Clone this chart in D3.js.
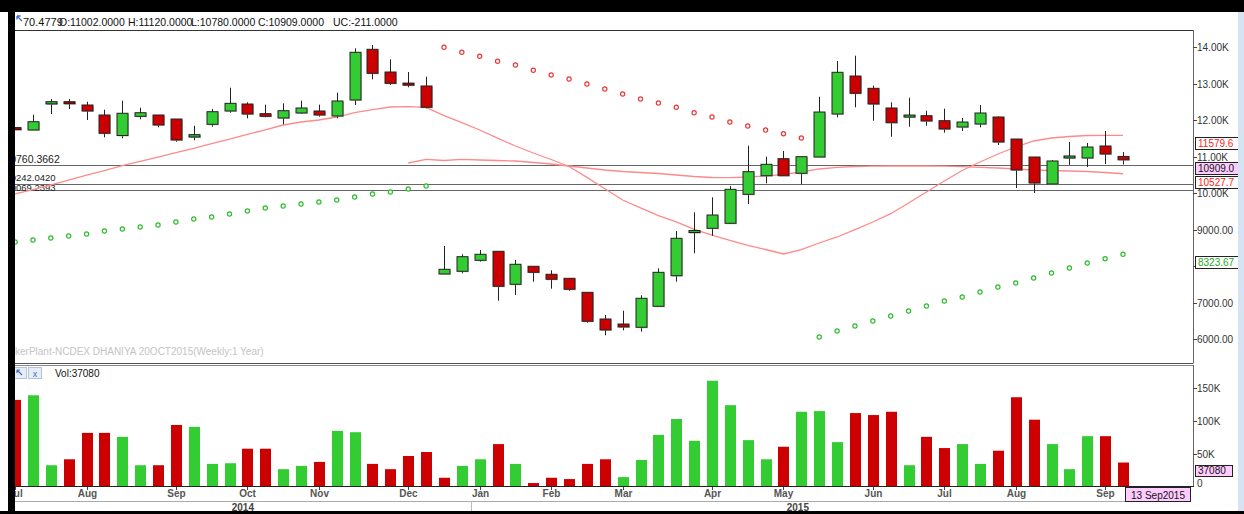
<!DOCTYPE html>
<html><head><meta charset="utf-8">
<script src="https://cdn.jsdelivr.net/npm/d3@7"></script>
<style>
html,body{margin:0;padding:0;background:#fff;overflow:hidden;}
svg{display:block;}
text{font-family:"Liberation Sans",Arial,sans-serif;}
</style></head><body>
<svg id="chart" width="1244" height="514"></svg>
<script>
// ---------------- DATA ----------------
const dates = [
"2014-07-06","2014-07-13","2014-07-20","2014-07-27","2014-08-03","2014-08-10","2014-08-17","2014-08-24","2014-08-31",
"2014-09-07","2014-09-14","2014-09-21","2014-09-28","2014-10-05","2014-10-12","2014-10-19","2014-10-26",
"2014-11-02","2014-11-09","2014-11-16","2014-11-23","2014-11-30","2014-12-07","2014-12-14","2014-12-21","2014-12-28",
"2015-01-04","2015-01-11","2015-01-18","2015-01-25","2015-02-01","2015-02-08","2015-02-15","2015-02-22",
"2015-03-01","2015-03-08","2015-03-15","2015-03-22","2015-03-29","2015-04-05","2015-04-12","2015-04-19","2015-04-26",
"2015-05-03","2015-05-10","2015-05-17","2015-05-24","2015-05-31","2015-06-07","2015-06-14","2015-06-21","2015-06-28",
"2015-07-05","2015-07-12","2015-07-19","2015-07-26","2015-08-02","2015-08-09","2015-08-16","2015-08-23","2015-08-30",
"2015-09-06","2015-09-13"];
const open = [11790,11726,12440,12500,12411,12137,11575,12101,12137,12027,
11534,11882,12247,12438,12173,12055,12192,12247,12110,12548,
13937,13315,13010,12932,7781,7855,8156,8403,7499,7992,
7773,7663,7279,6548,6411,6321,6896,7734,8950,9033,
9170,9964,10474,10940,10540,10986,12164,13205,12868,12329,
12125,12118,11981,11808,11890,12082,11479,10986,10247,10960,
10959,11288,11002];
const high = [11790,12145,12575,12575,12500,12282,12528,12337,12137,12027,
11844,12301,12885,12485,12420,12457,12529,12420,12748,13964,
14055,13663,13315,13186,8548,8321,8438,8403,8164,7992,
7882,7663,7279,6658,6775,7197,7937,8959,9471,9882,
10192,11296,10995,11151,10995,12638,13616,13762,12940,12485,
12611,12255,12310,12055,12411,12100,11479,10986,10900,11400,
11370,11700,11120];
const low = [11770,11726,12164,12301,12000,11526,11500,12019,11800,11405,
11444,11816,12200,12047,12073,11882,12164,12090,12047,12411,
13115,12959,12896,12320,7781,7800,8118,7049,7205,7570,
7378,7323,6447,6101,6238,6200,6896,7570,8348,8830,
9151,9699,10266,10474,10238,10986,12073,12348,11981,11542,
11816,11844,11652,11700,11800,11315,10137,10000,10247,10770,
10712,10795,10780];
const close = [11780,11953,12500,12490,12246,11636,12184,12200,11863,11452,
11597,12227,12457,12164,12101,12255,12329,12137,12521,13855,
13279,13005,13000,12348,7910,8255,8321,7444,8047,7827,
7636,7362,6485,6247,6329,7115,7827,8759,8970,9397,
10101,10584,10786,10474,10995,12219,13307,12731,12438,11926,
12135,11973,11753,11945,12192,11397,10630,10274,10877,11014,
11260,11068,10909];
const volume = [132000,139000,33000,42000,82000,82000,76000,33000,33000,94000,
91000,35000,36000,58000,58000,27000,32000,38000,85000,83000,
35000,27000,47000,53000,14000,32000,42000,65000,35000,6000,
14000,12000,35000,42000,15000,41000,79000,103000,70000,161000,
124000,71000,42000,61000,114000,115000,68000,112000,109000,114000,
33000,76000,59000,65000,35000,55000,136000,102000,65000,27000,
77000,77000,37080];
const ma1 = [9973,10093,10225,10356,10493,10616,10748,10866,10986,11104,
11225,11351,11479,11605,11732,11863,11945,12000,12082,12200,
12282,12356,12364,12348,12118,11926,11726,11501,11288,11096,
10918,10726,10427,10118,9808,9595,9381,9211,9005,8849,
8699,8562,8452,8329,8447,8630,8795,8995,9205,9433,
9726,10027,10329,10616,10849,11068,11260,11425,11507,11548,
11575,11581,11579.6];
const ma2 = [null,null,null,null,null,null,null,null,null,null,
null,null,null,null,null,null,null,null,null,null,
null,null,10822,10923,10890,10923,10904,10890,10877,10836,
10795,10740,10685,10630,10589,10562,10534,10493,10452,10425,
10419,10438,10466,10512,10575,10658,10704,10726,10734,10740,
10740,10740,10734,10721,10704,10685,10658,10630,10616,10603,
10589,10562,10527.7];
const sar = [8658,8712,8767,8822,8877,8959,9014,9068,9123,9205,
9288,9342,9425,9507,9589,9644,9699,9753,9808,9890,
9973,10027,10110,10192,13992,13855,13745,13608,13507,13362,
13233,13123,12986,12849,12712,12575,12466,12348,12200,12082,
11945,11836,11726,11625,11507,6055,6219,6356,6493,6630,
6767,6904,7041,7151,7288,7425,7534,7671,7808,7945,
8082,8200,8323.67];
const levels = [10760.3662, 10242.0420, 10069.2393];
const priceTicks = [6000,7000,8000,9000,10000,11000,12000,13000,14000];
const volTicks = [0,50000,100000,150000];
const headerPrev = "70.4779";
const headerItems = ["O:11002.0000","H:11120.0000","L:10780.0000","C:10909.0000","UC:-211.0000"];
const volLabel = "Vol:37080";
const watermark = "TickerPlant-NCDEX DHANIYA 20OCT2015(Weekly:1 Year)";
const lastDateLabel = "13 Sep2015";

// ---------------- SETUP ----------------
const svg = d3.select("#chart");
const RED = "#cc0000", GREEN = "#33cc33";
const L = 15, R = 1193;
const parse = d3.timeParse("%Y-%m-%d");
const D = dates.map(parse);
const n = dates.length;
const x = d3.scalePoint().domain(d3.range(n)).range([15.1, 1123]);
const y = d3.scaleLinear().domain([6000, 14000]).range([339, 47]);
const yv = d3.scaleLinear().domain([0, 150000]).range([487, 388]);

svg.append("rect").attr("width",1244).attr("height",514).attr("fill","#fff");
const defs = svg.append("defs");
defs.append("clipPath").attr("id","cp").append("rect").attr("x",L).attr("y",31).attr("width",R-L).attr("height",332);
defs.append("clipPath").attr("id","cv").append("rect").attr("x",L).attr("y",366).attr("width",R-L).attr("height",120);

// ---------------- PRICE PANEL ----------------
const gp = svg.append("g").attr("clip-path","url(#cp)");

// watermark
const wm = gp.append("text").attr("y",355).attr("font-size",10).attr("fill","#c4c4c4").text(watermark);
const wmOff = wm.node().getSubStringLength(0,3);
wm.attr("x", L - wmOff);

// horizontal levels
const lvlFont = [10.5, 9.5, 9.5];
const lvlShift = [-2, -3, 1];
levels.forEach((v,k) => {
  const ly = Math.round(y(v));
  gp.append("line").attr("x1",L).attr("x2",R).attr("y1",ly+0.5).attr("y2",ly+0.5)
    .attr("stroke","#666").attr("stroke-width",1);
  const t = gp.append("text").attr("y",ly+lvlShift[k]).attr("font-size",lvlFont[k])
    .attr("font-family","DejaVu Sans, sans-serif").attr("fill","#222").text(v.toFixed(4));
  const off = t.node().getSubStringLength(0,2);
  t.attr("x", L + 1 - off);
});

// moving averages
const lineGen = arr => d3.line().defined((d,i)=>arr[i]!=null).x((d,i)=>x(i)).y((d,i)=>y(arr[i]))(arr);
gp.append("path").attr("d",lineGen(ma1)).attr("fill","none").attr("stroke","#ff8a8a").attr("stroke-width",1.3);
gp.append("path").attr("d",lineGen(ma2)).attr("fill","none").attr("stroke","#ff8a8a").attr("stroke-width",1.3);

// SAR
gp.selectAll("circle.sar").data(sar).join("circle").attr("class","sar")
  .attr("cx",(d,i)=>x(i)).attr("cy",d=>y(d)).attr("r",2.1)
  .attr("fill","#fff").attr("stroke",(d,i)=> d > high[i] ? "#e83a3a" : "#2ebd2e").attr("stroke-width",1.2);

// candles
const bw = 11;
const cg = gp.selectAll("g.c").data(d3.range(n)).join("g").attr("class","c");
cg.append("line").attr("x1",i=>Math.round(x(i))+0.5).attr("x2",i=>Math.round(x(i))+0.5)
  .attr("y1",i=>y(high[i])).attr("y2",i=>y(low[i])).attr("stroke","#222").attr("stroke-width",1);
cg.append("rect").attr("x",i=>Math.round(x(i))-5+1).attr("y",i=>Math.min(y(open[i]),y(close[i]))+1)
  .attr("width",bw).attr("height",i=>Math.max(2,Math.abs(y(open[i])-y(close[i]))))
  .attr("fill","#aaa").attr("opacity",0.6);
cg.append("rect").attr("x",i=>Math.round(x(i))-5).attr("y",i=>Math.min(y(open[i]),y(close[i])))
  .attr("width",bw).attr("height",i=>Math.max(2,Math.abs(y(open[i])-y(close[i]))))
  .attr("fill",i=> close[i] >= open[i] ? GREEN : RED)
  .attr("stroke",i=> Math.abs(y(open[i])-y(close[i]))<2.5 ? "#111" : "#222").attr("stroke-width",1);

// ---------------- VOLUME PANEL ----------------
const gv = svg.append("g").attr("clip-path","url(#cv)");
gv.selectAll("rect.v").data(volume).join("rect").attr("class","v")
  .attr("x",(d,i)=>Math.round(x(i))-5).attr("width",bw)
  .attr("y",d=>yv(d)).attr("height",d=>yv(0)-yv(d))
  .attr("fill",(d,i)=>{ const prev = i>0 ? close[i-1] : open[i]; return close[i] >= prev ? GREEN : RED; });

// volume header
svg.append("rect").attr("x",13.5).attr("y",367.5).attr("width",13).attr("height",11).attr("fill","#e6edf7").attr("stroke","#b7c4d8");
svg.append("rect").attr("x",28.5).attr("y",367.5).attr("width",13).attr("height",11).attr("fill","#e6edf7").attr("stroke","#b7c4d8");
svg.append("path").attr("d","M17,370 L22,375 M17,370 L17,373 M17,370 L20,370").attr("stroke","#3b6fc7").attr("stroke-width",1.2).attr("fill","none");
svg.append("text").attr("x",35).attr("y",376.5).attr("text-anchor","middle").attr("font-size",9).attr("fill","#3b6fc7").text("x");
svg.append("text").attr("x",55).attr("y",376.5).attr("font-size",10).attr("fill","#111").text(volLabel);

// ---------------- BORDERS ----------------
svg.append("line").attr("x1",L).attr("x2",R).attr("y1",30.5).attr("y2",30.5).attr("stroke","#333");
svg.append("line").attr("x1",L).attr("x2",R).attr("y1",363.5).attr("y2",363.5).attr("stroke","#555");
svg.append("line").attr("x1",L).attr("x2",R).attr("y1",365.5).attr("y2",365.5).attr("stroke","#888");
svg.append("line").attr("x1",R+0.5).attr("x2",R+0.5).attr("y1",30).attr("y2",363.5).attr("stroke","#666");
svg.append("line").attr("x1",R+0.5).attr("x2",R+0.5).attr("y1",365).attr("y2",487).attr("stroke","#666");
svg.append("line").attr("x1",L).attr("x2",R+1).attr("y1",486.5).attr("y2",486.5).attr("stroke","#222");

// value boxes (laid out first so covered tick labels can be skipped)
function layoutBoxes(items, h){
  let prevBottom = -1e9;
  items.sort((a,b)=>a.y-b.y).forEach(it=>{
    it.top = Math.round(Math.max(it.y+2, prevBottom+1));
    it.h = h;
    prevBottom = it.top + h;
  });
  return items;
}
const priceBoxes = layoutBoxes([
  {y:y(ma1[n-1]), t:ma1[n-1].toFixed(1), color:"#ff2020", bg:"#fff", w:44},
  {y:y(close[n-1]), t:close[n-1].toFixed(1), color:"#111", bg:"#ffccff", w:44},
  {y:y(ma2[n-1]), t:ma2[n-1].toFixed(1), color:"#ff2020", bg:"#fff", w:44},
  {y:y(sar[n-1]), t:sar[n-1].toFixed(2), color:"#1aaa1a", bg:"#fff", w:44}
], 12);
const volBoxes = layoutBoxes([{y:yv(volume[n-1]), t:String(volume[n-1]), color:"#111", bg:"#ffccff", w:37}], 11);
const covered = (yy, list) => list.some(b => yy+4 > b.top && yy-4 < b.top+b.h);

// price axis
const pa = svg.append("g");
priceTicks.forEach(v=>{
  const yy = Math.round(y(v))+0.5;
  pa.append("line").attr("x1",R).attr("x2",R+4).attr("y1",yy).attr("y2",yy).attr("stroke","#444");
  if (!covered(yy, priceBoxes))
    pa.append("text").attr("x",R+4).attr("y",yy+3.5).attr("font-size",10).attr("fill","#333")
      .text(v>=10000 ? (v/1000).toFixed(2)+"K" : v.toFixed(2));
});
// volume axis
volTicks.forEach(v=>{
  const yy = Math.round(yv(v))+0.5;
  if (v>0) {
    pa.append("line").attr("x1",R).attr("x2",R+4).attr("y1",yy).attr("y2",yy).attr("stroke","#444");
    pa.append("text").attr("x",R+4).attr("y",yy+3.5).attr("font-size",10).attr("fill","#333").text((v/1000)+"K");
  } else {
    pa.append("text").attr("x",R+4).attr("y",yy-1).attr("font-size",10).attr("fill","#333").text("0");
  }
});

function drawBoxes(items){
  items.forEach(it=>{
    svg.append("rect").attr("x",R+2.5).attr("y",it.top+0.5).attr("width",it.w).attr("height",it.h)
      .attr("fill",it.bg).attr("stroke","#222").attr("stroke-width",1);
    svg.append("text").attr("x",R+5).attr("y",it.top+it.h-2).attr("font-size",10)
      .attr("font-family","DejaVu Sans Mono, monospace").attr("fill",it.color).text(it.t);
  });
}
drawBoxes(priceBoxes);
drawBoxes(volBoxes);

// ---------------- X AXIS ----------------
const fmtM = d3.timeFormat("%b");
const xa = svg.append("g");
for (let i=0;i<n;i++){
  if (i===0 || D[i].getMonth()!==D[i-1].getMonth()){
    const xx = Math.round(x(i))+0.5;
    xa.append("line").attr("x1",xx).attr("x2",xx).attr("y1",487).attr("y2",490).attr("stroke","#444");
    xa.append("text").attr("x",xx).attr("y",497).attr("text-anchor","middle").attr("font-size",10)
      .attr("font-weight","bold").attr("fill","#555").text(fmtM(D[i]));
  }
}
xa.append("line").attr("x1",L).attr("x2",1125).attr("y1",501.5).attr("y2",501.5).attr("stroke","#aaa");
const years = d3.groups(d3.range(n), i=>D[i].getFullYear());
years.forEach(([yr, idx], k)=>{
  const first = idx[0], last = idx[idx.length-1];
  const x0 = k===0 ? L : (x(first-1)+x(first))/2;
  const x1 = k===years.length-1 ? 1125 : (x(last)+x(last+1))/2;
  if (k>0) xa.append("line").attr("x1",Math.round(x0)+0.5).attr("x2",Math.round(x0)+0.5).attr("y1",501).attr("y2",511).attr("stroke","#bbb");
  xa.append("text").attr("x",(x0+x1)/2).attr("y",510.5).attr("text-anchor","middle").attr("font-size",10)
    .attr("font-weight","bold").attr("fill","#444").text(yr);
});
// last date box
xa.append("rect").attr("x",1125.5).attr("y",487.5).attr("width",65).attr("height",14).attr("fill","#ffccff").attr("stroke","#222");
xa.append("text").attr("x",1158).attr("y",498.5).attr("text-anchor","middle").attr("font-size",10).attr("fill","#111").text(lastDateLabel);

// ---------------- HEADER ----------------
svg.append("path").attr("d","M17,16 L22,21 M17,16 L17,19.5 M17,16 L20.5,16").attr("stroke","#3b6fc7").attr("stroke-width",1.3).attr("fill","none");
svg.append("text").attr("x",23).attr("y",26).attr("font-size",11).attr("fill","#111").text(headerPrev);
const hx = [59,128,191,258,333];
headerItems.forEach((t,i)=>{
  svg.append("text").attr("x",hx[i]).attr("y",26).attr("font-size",10.5).attr("fill","#111").text(t);
});

// ---------------- FRAME ----------------
svg.append("rect").attr("x",0).attr("y",0).attr("width",1244).attr("height",12).attr("fill","#000");
svg.append("rect").attr("x",8).attr("y",12).attr("width",7).attr("height",502).attr("fill","#000");
svg.append("rect").attr("x",0).attr("y",511).attr("width",1244).attr("height",3).attr("fill","#000");
svg.append("rect").attr("x",1238).attr("y",12).attr("width",6).attr("height",499).attr("fill","#d5e3f3");
</script>
</body></html>
